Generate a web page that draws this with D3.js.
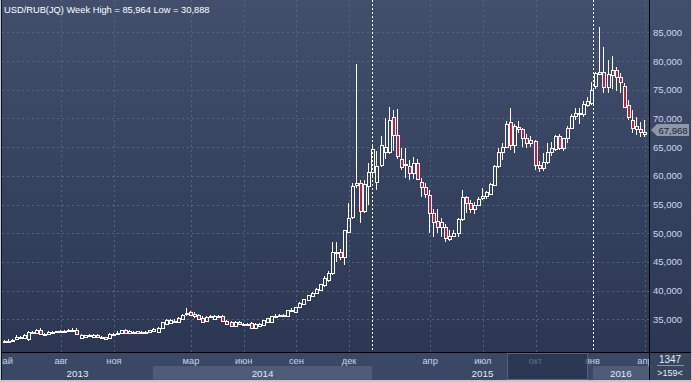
<!DOCTYPE html>
<html><head><meta charset="utf-8">
<script src="https://cdn.jsdelivr.net/npm/d3@7"></script>
<style>
body{margin:0;background:#c3c7cf;}
svg{display:block;font-family:"Liberation Sans",Arial,sans-serif;}
</style>
</head><body>
<svg id="chart" width="692" height="382"></svg>
<script>
// ---------- DATA ----------
const title = "USD/RUB(JQ) Week High = 85,964 Low = 30,888";
const opens = [31.0,31.3,31.3,31.5,31.8,31.7,31.6,32.8,32.6,33.1,32.5,32.4,32.8,32.8,32.9,32.9,32.9,33.2,33.2,31.8,
31.9,32.2,32.0,32.3,31.9,31.9,31.7,32.5,32.6,32.6,33.1,32.6,32.8,32.9,32.7,32.8,32.8,32.9,32.8,33.5,
34.2,34.3,34.7,34.6,35.1,36.1,36.2,36.0,35.7,35.3,34.7,35.5,35.1,35.6,35.5,34.7,34.5,33.9,34.5,34.1,
34.2,34.3,33.5,33.9,34.0,34.6,34.6,35.6,35.7,35.7,35.5,36.6,36.3,37.1,37.6,38.3,39.0,39.6,40.1,41.0,
41.8,43.0,46.6,46.7,45.8,50.2,52.8,58.4,58.7,53.8,58.3,60.6,58.9,61.8,64.1,64.1,70.2,67.1,63.0,62.1,
61.7,60.5,62.2,59.0,58.0,56.6,53.5,52.2,51.0,51.0,49.0,49.5,50.0,52.4,56.3,55.2,54.2,55.0,56.2,56.4,
56.9,58.4,61.7,64.1,65.1,69.3,65.3,68.5,68.1,66.5,65.7,66.0,61.8,61.3,62.4,64.1,64.6,66.9,64.8,66.5,
68.4,70.4,70.7,70.7,72.3,72.6,75.6,77.8,78.0,75.4,77.5,78.5,77.2,75.6,72.3,69.8,68.6,68.1,67.7];
const highs = [31.4,31.5,31.6,32.2,32.1,32.5,32.9,33.0,33.3,33.4,32.7,32.9,33.0,33.0,33.1,33.2,33.3,33.4,33.4,32.5,
32.3,32.4,32.4,32.5,32.1,32.0,32.6,32.7,32.9,33.2,33.3,33.1,33.0,33.0,32.9,32.9,33.2,33.4,33.6,34.6,
35.0,35.0,35.0,35.4,35.9,36.9,36.5,36.3,35.9,35.5,35.6,35.8,35.8,35.7,35.7,34.9,34.7,34.7,34.7,34.3,
34.4,34.5,34.3,34.3,34.9,35.3,35.6,35.9,35.9,35.9,36.7,37.0,37.2,38.0,38.6,39.3,39.7,40.4,41.2,42.5,
43.5,48.4,48.4,47.3,50.6,55.2,58.8,79.4,59.3,59.3,62.2,65.5,64.4,66.9,70.0,71.9,71.4,71.6,64.8,64.8,
62.7,63.2,63.0,59.7,58.7,57.5,54.2,54.3,52.6,51.6,50.5,50.5,52.6,57.5,56.5,55.7,55.4,56.3,57.8,57.4,
58.8,61.9,64.8,65.8,69.5,71.8,69.0,69.5,68.4,67.2,66.9,66.3,62.5,63.9,65.7,65.9,67.1,67.3,66.6,68.6,
70.7,71.8,71.8,73.0,73.7,76.3,78.1,85.964,82.4,80.1,80.8,78.9,77.9,76.1,73.2,71.4,70.2,69.3,69.7];
const lows = [30.888,31.1,31.2,31.4,31.6,31.5,31.3,32.6,32.5,32.4,32.3,32.3,32.7,32.7,32.8,32.8,32.8,33.1,32.4,31.6,
31.7,32.0,31.9,31.9,31.8,31.5,31.6,32.3,32.5,32.5,32.6,32.5,32.7,32.6,32.6,32.7,32.7,32.8,32.7,33.4,
34.0,34.1,34.5,34.5,35.0,35.6,35.5,35.3,35.0,34.4,34.5,35.3,35.0,35.3,34.6,34.1,33.8,33.8,34.0,33.9,
34.0,33.3,33.4,33.8,33.9,34.5,34.5,35.3,35.5,35.5,35.4,36.3,36.2,37.0,37.5,38.2,38.9,39.4,39.9,40.7,
41.5,42.8,44.9,45.4,44.4,50.0,52.4,57.8,51.7,53.5,54.9,60.0,57.5,61.5,63.0,63.8,64.4,63.0,61.0,59.7,
59.2,59.5,59.2,56.3,56.1,50.0,49.4,50.0,49.3,48.4,48.6,49.3,49.4,52.2,53.6,53.5,53.3,54.8,55.7,56.0,
56.6,58.2,61.3,62.7,65.0,64.5,63.9,67.5,65.0,64.8,65.0,61.0,60.6,60.9,62.0,63.5,64.3,64.5,64.4,65.8,
68.2,69.7,69.1,70.2,71.9,72.3,75.2,77.5,74.5,74.5,75.2,74.7,74.5,71.8,69.7,67.4,67.1,66.7,66.7];
const closes = [31.3,31.3,31.4,31.9,32.0,32.3,32.8,32.8,33.1,32.5,32.5,32.8,32.8,32.9,32.9,33.0,33.2,33.2,32.5,32.3,
32.2,32.2,32.3,32.0,31.9,31.6,32.5,32.5,32.7,33.1,32.6,33.0,32.7,32.6,32.8,32.8,33.1,33.3,33.5,34.5,
34.8,34.8,34.7,35.3,35.8,36.1,35.7,35.6,35.1,34.6,35.4,35.5,35.6,35.5,34.7,34.2,33.9,34.5,34.1,34.1,
34.2,33.4,34.2,34.2,34.8,35.2,35.5,35.6,35.7,35.7,36.6,36.6,37.1,37.9,38.5,39.2,39.6,40.3,41.1,42.2,
43.0,46.7,46.8,45.8,50.5,52.6,58.3,58.8,53.8,58.5,60.6,64.6,61.7,65.3,65.0,69.7,67.1,63.4,61.5,61.9,
60.5,62.2,59.4,58.0,56.8,53.5,51.9,51.0,51.9,49.1,49.5,50.0,52.4,56.3,55.2,54.2,54.9,56.0,56.4,57.1,
58.5,61.7,64.1,65.1,69.1,65.3,68.6,68.1,66.5,65.7,66.2,61.8,61.3,62.4,64.1,64.8,66.9,64.8,66.5,68.4,
70.5,70.9,71.0,72.5,73.1,74.9,77.9,78.0,75.4,77.7,78.5,77.2,76.3,71.9,70.2,68.4,68.1,67.6,67.2];

const yTicks = [35,40,45,50,55,60,65,70,75,80,85];
const yTickLabels = ["35,000","40,000","45,000","50,000","55,000","60,000","65,000","70,000","75,000","80,000","85,000"];
const monthLabels = ["май","авг","ноя","мар","июн","сен","дек","апр","июл","окт","янв","апр"];
const monthIdx    = [0,14,27,46,59,72,85,105,118,131,145,158];
const yearLabels   = ["2013","2014","2015","2016"];
const yearStartIdx = [-2,36.6,90.7,145.1];
const yearLineIdx  = [90.7,145.1];
const navRangeIdx  = [124,143.7];
const lastPrice = 67.968, lastPriceLabel = "67,968";
const cornerTop = "1347", cornerBottom = ">159<";

// ---------- LAYOUT ----------
const W = 692, H = 382, plotR = 649, plotB = 352, monthB = 366, yearB = 380;
const svg = d3.select("#chart");
const x = d3.scaleLinear().domain([0, opens.length - 1]).range([4.5, 645]);
const y = d3.scaleLinear().domain([35, 85]).range([319.3, 32.3]);
const px = v => Math.round(v) + 0.5;

const defs = svg.append("defs");
const g1 = defs.append("linearGradient").attr("id","bg").attr("gradientUnits","userSpaceOnUse")
  .attr("x1",0).attr("y1",0).attr("x2",0).attr("y2",plotB);
g1.append("stop").attr("offset",0).attr("stop-color","#414f6d");
g1.append("stop").attr("offset",1).attr("stop-color","#2b3753");
defs.append("clipPath").attr("id","plotclip").append("rect").attr("x",2).attr("y",0).attr("width",plotR-2).attr("height",plotB);

// frame
svg.append("rect").attr("width",W).attr("height",H).attr("fill","#c3c7cf");
svg.append("rect").attr("x",1).attr("y",0).attr("width",W-2).attr("height",plotB).attr("fill","url(#bg)");

// horizontal grid
svg.append("g").selectAll("line").data(yTicks).join("line")
  .attr("x1",2).attr("x2",plotR).attr("y1",d=>px(y(d))).attr("y2",d=>px(y(d)))
  .attr("stroke","#56637f").attr("stroke-dasharray","2,3");
// vertical grid
svg.append("g").selectAll("line").data(monthIdx.filter((d,i)=>d>0 && monthLabels[i]!=="янв")).join("line")
  .attr("x1",d=>px(x(d))).attr("x2",d=>px(x(d))).attr("y1",0).attr("y2",plotB)
  .attr("stroke","#56637f").attr("stroke-dasharray","2,3");

// candles
const cg = svg.append("g").attr("clip-path","url(#plotclip)");
const data = opens.map((o,i)=>({i,o,h:highs[i],l:lows[i],c:closes[i]}));
data.forEach(d=>{
  const r = Math.round(x(d.i));
  const wx = r - 0.5;
  let yt = px(y(Math.max(d.o,d.c))), yb = px(y(Math.min(d.o,d.c)));
  if (yb - yt < 1) yb = yt + 1;
  const yh = Math.round(y(d.h)), yl = Math.round(y(d.l));
  if (yh < yt) cg.append("line").attr("x1",wx).attr("x2",wx).attr("y1",yh).attr("y2",yt).attr("stroke","#fff");
  if (yl > yb) cg.append("line").attr("x1",wx).attr("x2",wx).attr("y1",yb).attr("y2",yl).attr("stroke","#fff");
  cg.append("rect").attr("x",r-1.5).attr("y",yt).attr("width",3).attr("height",yb-yt)
    .attr("fill", d.c < d.o ? "#d8143c" : "none").attr("stroke","#fff");
});

// year lines
svg.append("g").selectAll("line").data(yearLineIdx).join("line")
  .attr("x1",d=>px(x(d))).attr("x2",d=>px(x(d))).attr("y1",0).attr("y2",plotB)
  .attr("stroke","#ffffff").attr("stroke-dasharray","2,2");

// title
svg.append("text").attr("x",4).attr("y",13).attr("fill","#ffffff").attr("font-size","9.3px").text(title);

// right axis labels
svg.append("g").selectAll("text").data(yTicks).join("text")
  .attr("x",653).attr("y",d=>y(d)+3.5).attr("fill","#cdd9ef").attr("font-size","9.5px")
  .text((d,i)=>yTickLabels[i]);

// bottom panel
svg.append("rect").attr("x",1).attr("y",plotB).attr("width",W-2).attr("height",yearB-plotB).attr("fill","#3b4865");
const bands = yearLabels.map((t,i)=>({t, s:Math.max(2,x(yearStartIdx[i])), e: i<yearLabels.length-1 ? x(yearStartIdx[i+1]) : plotR, odd:i%2===1}));
svg.append("g").selectAll("rect").data(bands).join("rect")
  .attr("x",d=>Math.round(d.s)).attr("y",monthB).attr("width",d=>Math.round(d.e)-Math.round(d.s)).attr("height",yearB-monthB)
  .attr("fill",d=>d.odd?"#4f5c79":"#3b4865");
defs.append("clipPath").attr("id","axclip").append("rect").attr("x",2).attr("y",plotB).attr("width",plotR-2).attr("height",yearB-plotB);
const ax = svg.append("g").attr("clip-path","url(#axclip)");
ax.selectAll("text.m").data(monthLabels).join("text").attr("class","m")
  .attr("x",(d,i)=>x(monthIdx[i])).attr("y",363.5).attr("text-anchor","middle")
  .attr("fill","#c9d3ea").attr("font-size","9.3px").text(d=>d);
ax.selectAll("text.yr").data(bands).join("text").attr("class","yr")
  .attr("x",d=>(d.s+d.e)/2).attr("y",377).attr("text-anchor","middle")
  .attr("fill","#e2e8f4").attr("font-size","9.8px").text(d=>d.t);
// navigator overlay
svg.append("rect").attr("x",px(x(navRangeIdx[0]))).attr("y",plotB+1.5).attr("width",Math.round(x(navRangeIdx[1])-x(navRangeIdx[0]))).attr("height",yearB-plotB-2)
  .attr("fill","#243049").attr("fill-opacity",0.65).attr("stroke","#56627c");

// borders
svg.append("line").attr("x1",1).attr("x2",W-1).attr("y1",plotB+0.5).attr("y2",plotB+0.5).attr("stroke","#000");
svg.append("line").attr("x1",plotR+0.5).attr("x2",plotR+0.5).attr("y1",0).attr("y2",yearB).attr("stroke","#000");
svg.append("line").attr("x1",1.5).attr("x2",1.5).attr("y1",0).attr("y2",yearB).attr("stroke","#10141e");

// corner
svg.append("rect").attr("x",plotR+1).attr("y",plotB+1).attr("width",W-plotR-2).attr("height",yearB-plotB-1).attr("fill","#38455f");
svg.append("text").attr("x",670).attr("y",362.5).attr("text-anchor","middle").attr("fill","#e8ecf4").attr("font-size","10px").text(cornerTop);
svg.append("line").attr("x1",657).attr("x2",684).attr("y1",365.5).attr("y2",365.5).attr("stroke","#8891a5");
svg.append("text").attr("x",670).attr("y",375.5).attr("text-anchor","middle").attr("fill","#e8ecf4").attr("font-size","9px").text(cornerBottom);

// last price tag
const ly = Math.round(y(lastPrice));
svg.append("path").attr("d",`M651,${ly} L657,${ly-6} L689,${ly-6} L689,${ly+6} L657,${ly+6} Z`).attr("fill","#8d97a7");
svg.append("text").attr("x",673).attr("y",ly+3.5).attr("text-anchor","middle").attr("fill","#1c2434").attr("font-size","9.5px").text(lastPriceLabel);
</script>
</body></html>
